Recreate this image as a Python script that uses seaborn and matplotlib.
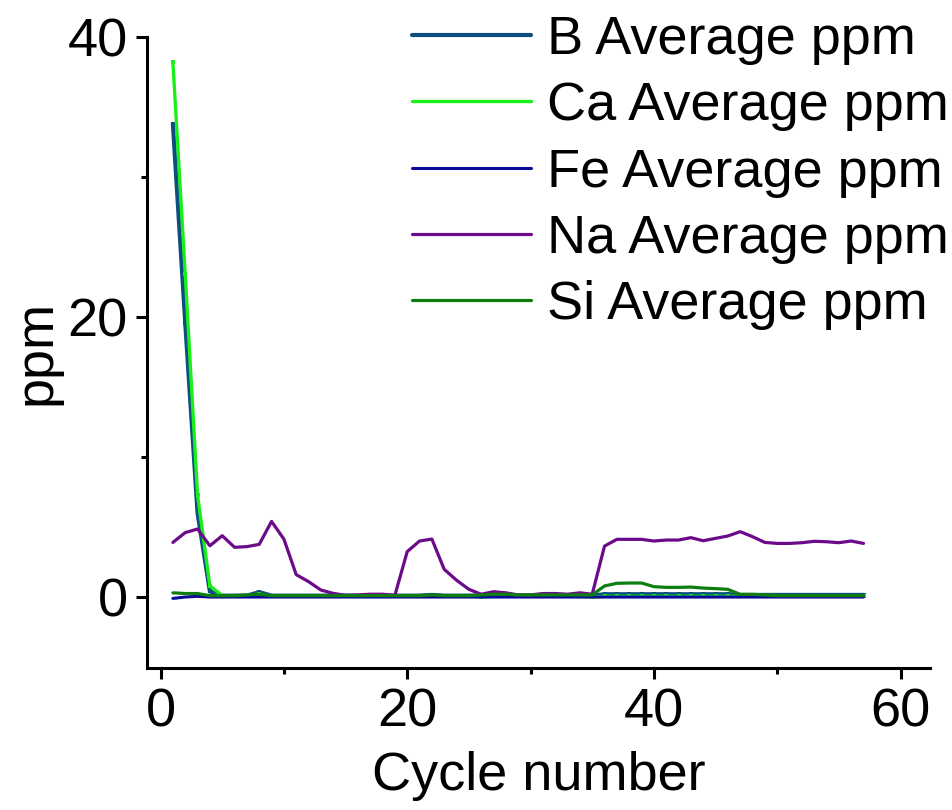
import numpy as np
import pandas as pd
import matplotlib
matplotlib.use("Agg")
import matplotlib.pyplot as plt
import seaborn as sns

# Cycle index and per-element average concentrations (ppm)
cycles = np.arange(1, 58)

b_ppm = [33.8, 19.6, 6.0, 0.4, 0.1, 0.1, 0.1, 0.35, 0.1, 0.1,
         0.1, 0.1, 0.1, 0.1, 0.1, 0.1, 0.1, 0.1, 0.1, 0.1,
         0.1, 0.15, 0.1, 0.1, 0.1, 0.1, 0.1, 0.1, 0.1, 0.1,
         0.1, 0.1, 0.1, 0.1, 0.1, 0.2, 0.2, 0.2, 0.2, 0.2,
         0.2, 0.2, 0.2, 0.2, 0.2, 0.2, 0.15, 0.15, 0.15, 0.15,
         0.15, 0.15, 0.15, 0.15, 0.15, 0.15, 0.15]

ca_ppm = [38.2, 23.1, 7.3, 0.8, 0.1, 0.05, 0.05, 0.2, 0.05, 0.05,
          0.05, 0.05, 0.05, 0.05, 0.05, 0.05, 0.05, 0.05, 0.05, 0.05,
          0.05, 0.05, 0.05, 0.05, 0.05, 0.0, 0.05, 0.05, 0.05, 0.05,
          0.05, 0.05, 0.05, 0.05, 0.0, 0.05, 0.05, 0.05, 0.05, 0.05,
          0.05, 0.05, 0.05, 0.05, 0.05, 0.05, 0.05, 0.05, 0.05, 0.05,
          0.05, 0.05, 0.05, 0.05, 0.05, 0.05, 0.05]

fe_ppm = [-0.1, 0.0, 0.05, 0.0, 0.0, 0.0, 0.0, 0.0, 0.0, 0.0,
          0.0, 0.0, 0.0, 0.0, 0.0, 0.0, 0.0, 0.0, 0.0, 0.0,
          0.0, 0.0, 0.0, 0.0, 0.0, 0.0, 0.0, 0.0, 0.0, 0.0,
          0.0, 0.0, 0.0, 0.0, 0.0, 0.0, 0.0, 0.0, 0.0, 0.0,
          0.0, 0.0, 0.0, 0.0, 0.0, 0.0, 0.0, 0.0, 0.0, 0.0,
          0.0, 0.0, 0.0, 0.0, 0.0, 0.0, 0.0]

na_ppm = [3.9, 4.6, 4.86, 3.66, 4.38, 3.55, 3.6, 3.76, 5.4, 4.14,
          1.6, 1.1, 0.5, 0.26, 0.12, 0.15, 0.2, 0.2, 0.12, 3.24,
          4.0, 4.14, 1.98, 1.2, 0.55, 0.2, 0.38, 0.3, 0.15, 0.15,
          0.25, 0.25, 0.2, 0.3, 0.2, 3.64, 4.12, 4.12, 4.12, 4.0,
          4.07, 4.07, 4.24, 4.02, 4.19, 4.36, 4.67, 4.31, 3.9, 3.83,
          3.83, 3.88, 3.98, 3.95, 3.88, 4.0, 3.83]

si_ppm = [0.3, 0.25, 0.25, 0.1, 0.1, 0.1, 0.15, 0.2, 0.1, 0.1,
          0.1, 0.1, 0.1, 0.1, 0.1, 0.1, 0.1, 0.1, 0.1, 0.1,
          0.1, 0.15, 0.1, 0.1, 0.1, 0.15, 0.2, 0.2, 0.15, 0.15,
          0.15, 0.15, 0.15, 0.15, 0.15, 0.79, 0.98, 1.0, 1.0, 0.74,
          0.69, 0.69, 0.71, 0.64, 0.6, 0.55, 0.19, 0.19, 0.15, 0.1,
          0.1, 0.1, 0.1, 0.1, 0.1, 0.1, 0.1]

labels = ["B Average ppm", "Ca Average ppm", "Fe Average ppm",
          "Na Average ppm", "Si Average ppm"]

sns.set_style("ticks")
plt.rcParams["font.family"] = ["Liberation Sans", "DejaVu Sans"]
plt.rcParams.update({
    "text.color": "black",
    "axes.labelcolor": "black",
    "axes.edgecolor": "black",
    "xtick.color": "black",
    "ytick.color": "black",
})

FS = 39

fig = plt.figure(figsize=(9.52, 8.10), dpi=100)
ax = fig.add_axes([0.1544, 0.1753, 0.8226, 0.779])

series = [
    (b_ppm, labels[0], "#0c4f7e", 3.0, "s", 2.6),
    (ca_ppm, labels[1], "#19f01a", 2.4, "s", 3.2),
    (fe_ppm, labels[2], "#0a0a98", 2.2, None, 0),
    (na_ppm, labels[3], "#6c0a8a", 2.3, None, 0),
    (si_ppm, labels[4], "#0f7d10", 2.3, None, 0),
]

for vals, lab, col, lw, mk, ms in series:
    df = pd.DataFrame({"cycle": cycles, "ppm": vals})
    kw = dict(marker=mk, markersize=ms, markeredgewidth=0.0) if mk else {}
    sns.lineplot(data=df, x="cycle", y="ppm", ax=ax, color=col,
                 linewidth=lw, label=lab, **kw)

ax.set_xlim(-1.1, 62.4)
ax.set_ylim(-5.07, 40)
ax.set_xticks([0, 20, 40, 60])
ax.set_xticks([10, 30, 50], minor=True)
ax.set_yticks([0, 20, 40])
ax.set_yticks([10, 30], minor=True)

for side in ("top", "right"):
    ax.spines[side].set_visible(False)
for side in ("left", "bottom"):
    ax.spines[side].set_linewidth(2.2)

ax.tick_params(axis="both", which="major", direction="out", length=8,
               width=2.2, labelsize=FS, pad=6, color="black",
               labelcolor="black")
ax.tick_params(axis="both", which="minor", direction="out", length=4,
               width=2.2, color="black")

ax.set_xlabel("Cycle number", fontsize=FS, labelpad=10)
ax.set_ylabel("ppm", fontsize=FS, labelpad=4)

leg = ax.legend(loc="upper left", bbox_to_anchor=(412 / 952, 1 - 15 / 810),
                bbox_transform=fig.transFigure, frameon=False, fontsize=FS,
                handlelength=2.2, handletextpad=0.3, labelspacing=0.3,
                borderpad=0, borderaxespad=0)
for line in leg.get_lines():
    line.set_markersize(0)

fig.savefig("out.png", dpi=100)
